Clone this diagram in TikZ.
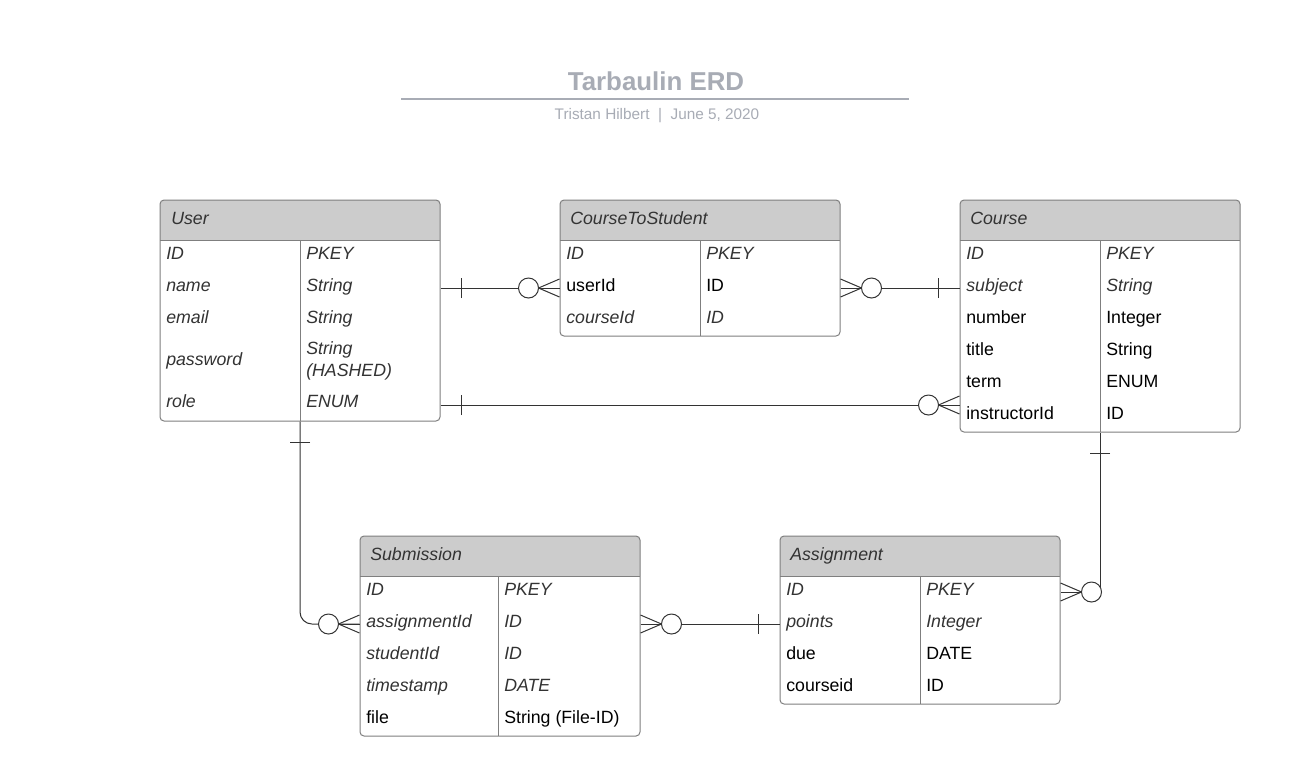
\documentclass[tikz,border=0pt]{standalone}
\usepackage{fontspec}
\setmainfont{Liberation Sans}
\usetikzlibrary{calc,fit}
\definecolor{bordergray}{HTML}{7F7F7F}
\definecolor{headgray}{HTML}{CCCCCC}
\definecolor{titlegray}{HTML}{A8ACB5}
\definecolor{italgray}{HTML}{333333}
\definecolor{linegray}{HTML}{333333}

\newcommand{\erdbox}[6]{%
  \fill[headgray] (#2,#3+40) [rounded corners=3pt] -- (#2,#3) -- (#4,#3) [sharp corners] -- (#4,#3+40) -- cycle;
  \node[ent, fit={(#2,#3) (#4,#5)}] (#1) {};
  \draw[bordergray, line width=0.75pt] (#2,#3+40) -- (#4,#3+40);
  \draw[bordergray, line width=0.75pt] (#6,#3+40) -- (#6,#5);
}
\newcommand{\crowfoot}[3]{%
  \draw[conn] ($(#1)+({21*(#2)},{21*(#3)})$) -- ($(#1)+({9*(#3)},{9*(#2)})$);
  \draw[conn] ($(#1)+({21*(#2)},{21*(#3)})$) -- (#1);
  \draw[conn] ($(#1)+({21*(#2)},{21*(#3)})$) -- ($(#1)+({-9*(#3)},{-9*(#2)})$);
  \draw[conn, fill=white] ($(#1)+({31*(#2)},{31*(#3)})$) circle[radius=7.5pt];
}
\newcommand{\oneend}[3]{%
  \draw[conn] ($(#1)+({21*(#2)+10*(#3)},{21*(#3)+10*(#2)})$) -- ($(#1)+({21*(#2)-10*(#3)},{21*(#3)-10*(#2)})$);
}

\begin{document}
\begin{tikzpicture}[x=0.75pt,y=-0.75pt,
  ent/.style={draw=bordergray, line width=0.75pt, rounded corners=3pt, inner sep=0pt},
  conn/.style={draw=linegray, line width=0.75pt},
  it/.style={anchor=west, inner sep=0pt, text height=9.5pt, text depth=0pt, font=\fontsize{13.3}{16}\selectfont\itshape, text=italgray},
  rg/.style={anchor=west, inner sep=0pt, text height=9.5pt, text depth=0pt, font=\fontsize{13.3}{16}\selectfont, text=black}]
\fill[white] (0,0) rectangle (1305,783);
\useasboundingbox (0,0) rectangle (1305,783);

% title
\node[font=\bfseries\fontsize{19.4}{23}\selectfont, text=titlegray] (title) at (656,81) {Tarbaulin ERD};
\draw[titlegray, line width=1.5pt] (401,99) -- (909,99);
\node[font=\fontsize{11.5}{14}\selectfont, text=titlegray] (subtitle) at (657,116) {Tristan Hilbert\ \ |\ \ June 5, 2020};

% entities
\erdbox{user}{160}{200}{440}{421}{300}
\erdbox{cts}{560}{200}{840}{336}{700}
\erdbox{course}{960}{200}{1240}{432}{1100}
\erdbox{sub}{360}{536}{640}{736}{498}
\erdbox{assign}{780}{536}{1060}{704}{920}

% User
\node[it] (u-h) at (171,218) {User};
\node[it] (u-id) at (166,253) {ID};          \node[it] (u-idt) at (306,253) {PKEY};
\node[it] (u-name) at (166,285) {name};      \node[it] (u-namet) at (306,285) {String};
\node[it] (u-email) at (166,317) {email};    \node[it] (u-emailt) at (306,317) {String};
\node[it] (u-pw) at (166,359) {password};    \node[it] (u-pwt) at (306,348) {String};
                                             \node[it] (u-pwt2) at (306,370) {(HASHED)};
\node[it] (u-role) at (166,401) {role};      \node[it] (u-rolet) at (306,401) {ENUM};

% CourseToStudent
\node[it] (c-h) at (570,218) {CourseToStudent};
\node[it] (c-id) at (566,253) {ID};          \node[it] (c-idt) at (706,253) {PKEY};
\node[rg] (c-uid) at (566,285) {userId};     \node[rg] (c-uidt) at (706,285) {ID};
\node[it] (c-cid) at (566,317) {courseId};   \node[it] (c-cidt) at (706,317) {ID};

% Course
\node[it] (co-h) at (970,218) {Course};
\node[it] (co-id) at (966,253) {ID};             \node[it] (co-idt) at (1106,253) {PKEY};
\node[it] (co-sub) at (966,285) {subject};       \node[it] (co-subt) at (1106,285) {String};
\node[rg] (co-num) at (966,317) {number};        \node[rg] (co-numt) at (1106,317) {Integer};
\node[rg] (co-tit) at (966,349) {title};         \node[rg] (co-titt) at (1106,349) {String};
\node[rg] (co-term) at (966,381) {term};         \node[rg] (co-termt) at (1106,381) {ENUM};
\node[rg] (co-ins) at (966,413) {instructorId};  \node[rg] (co-inst) at (1106,413) {ID};

% Submission
\node[it] (s-h) at (370,554) {Submission};
\node[it] (s-id) at (366,589) {ID};              \node[it] (s-idt) at (504,589) {PKEY};
\node[it] (s-aid) at (366,621) {assignmentId};   \node[it] (s-aidt) at (504,621) {ID};
\node[it] (s-sid) at (366,653) {studentId};      \node[it] (s-sidt) at (504,653) {ID};
\node[it] (s-ts) at (366,685) {timestamp};       \node[it] (s-tst) at (504,685) {DATE};
\node[rg] (s-file) at (366,717) {file};          \node[rg] (s-filet) at (504,717) {String (File-ID)};

% Assignment
\node[it] (a-h) at (790,554) {Assignment};
\node[it] (a-id) at (786,589) {ID};              \node[it] (a-idt) at (926,589) {PKEY};
\node[it] (a-pts) at (786,621) {points};         \node[it] (a-ptst) at (926,621) {Integer};
\node[rg] (a-due) at (786,653) {due};            \node[rg] (a-duet) at (926,653) {DATE};
\node[rg] (a-cid) at (786,685) {courseid};       \node[rg] (a-cidt) at (926,685) {ID};

% connectors
% User -- CourseToStudent
\draw[conn] (user.east |- 0,288) coordinate (p1a) -- (cts.west |- 0,288) coordinate (p1b);
\oneend{p1a}{1}{0}
\crowfoot{p1b}{-1}{0}
% CourseToStudent -- Course
\draw[conn] (cts.east |- 0,288) coordinate (p2a) -- (course.west |- 0,288) coordinate (p2b);
\crowfoot{p2a}{1}{0}
\oneend{p2b}{-1}{0}
% User -- Course
\draw[conn] (user.east |- 0,405) coordinate (p3a) -- (course.west |- 0,405) coordinate (p3b);
\oneend{p3a}{1}{0}
\crowfoot{p3b}{-1}{0}
% User -- Submission
\draw[conn, rounded corners=9pt] (user.south) coordinate (p4a) |- (sub.west |- 0,624) coordinate (p4b);
\oneend{p4a}{0}{1}
\crowfoot{p4b}{-1}{0}
% Submission -- Assignment
\draw[conn] (sub.east |- 0,624) coordinate (p5a) -- (assign.west |- 0,624) coordinate (p5b);
\crowfoot{p5a}{1}{0}
\oneend{p5b}{-1}{0}
% Course -- Assignment
\draw[conn] (course.south) coordinate (p6a) -- (course.south |- 0,592);
\coordinate (p6b) at (assign.east |- 0,592);
\oneend{p6a}{0}{1}
\crowfoot{p6b}{1}{0}
\end{tikzpicture}
\end{document}
